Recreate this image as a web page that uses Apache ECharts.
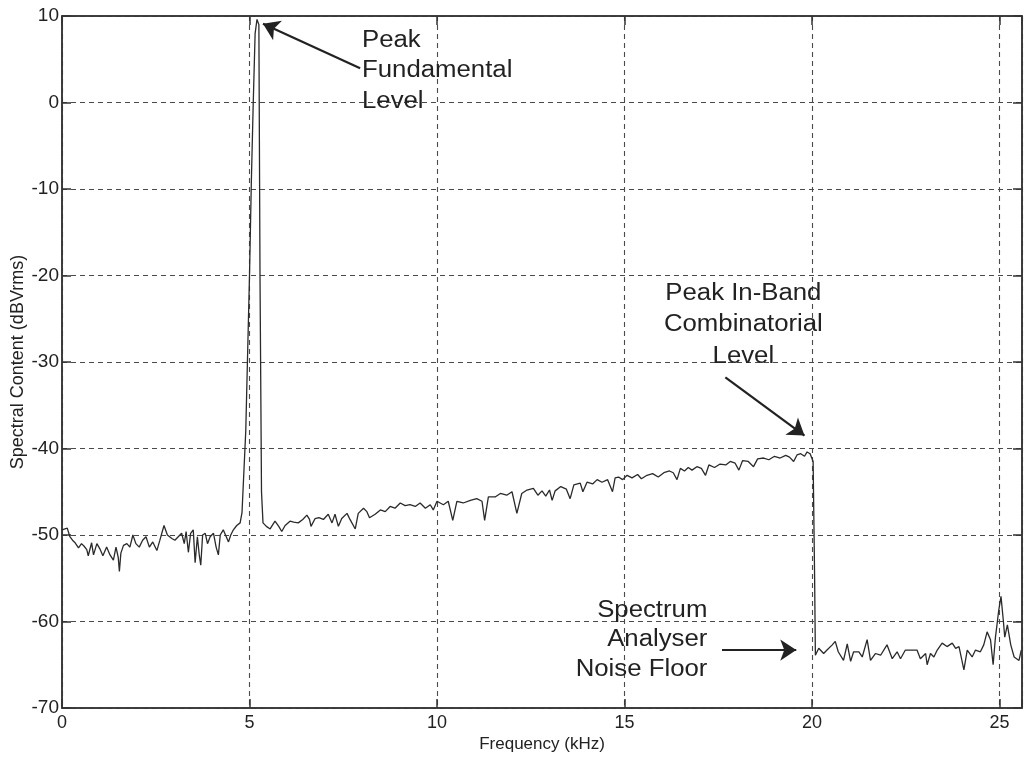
<!DOCTYPE html>
<html>
<head>
<meta charset="utf-8">
<script src="https://cdn.jsdelivr.net/npm/echarts@6/dist/echarts.min.js"></script>
<style>
  html, body { margin: 0; padding: 0; background: #ffffff; }
  #chart { width: 1027px; height: 760px; }
</style>
</head>
<body>
<div id="chart"></div>
<script>
// Spectrum analyser trace: frequency (kHz) and level (dBVrms)
const freqKHz = [
  0.00, 0.05, 0.14, 0.21, 0.28, 0.35, 0.44, 0.52, 0.59, 0.66, 0.70, 0.79, 0.84, 0.93, 1.01, 1.09,
  1.19, 1.28, 1.37, 1.44, 1.50, 1.53, 1.57, 1.64, 1.73, 1.81, 1.89, 1.97, 2.06, 2.15, 2.24, 2.33,
  2.42, 2.53, 2.61, 2.72, 2.81, 2.93, 3.01, 3.10, 3.19, 3.26, 3.31, 3.37, 3.43, 3.50, 3.55, 3.61,
  3.66, 3.70, 3.75, 3.82, 3.88, 3.95, 4.04, 4.11, 4.17, 4.22, 4.30, 4.38, 4.44, 4.50, 4.57, 4.66,
  4.75, 4.80, 4.90, 5.00, 5.05, 5.10, 5.15, 5.20, 5.25, 5.28, 5.32, 5.36,
  5.45, 5.55, 5.62, 5.68, 5.78, 5.86, 5.95, 6.08, 6.18, 6.30, 6.42, 6.53, 6.60, 6.64, 6.75, 6.85,
  6.97, 7.10, 7.20, 7.28, 7.37, 7.46, 7.60, 7.68, 7.82, 7.90, 8.04, 8.13, 8.20, 8.35, 8.49, 8.62,
  8.75, 8.88, 9.02, 9.15, 9.28, 9.42, 9.55, 9.69, 9.82, 9.90, 10.00, 10.17, 10.30, 10.42, 10.53, 10.70,
  10.89, 11.06, 11.20, 11.27, 11.37, 11.55, 11.69, 11.86, 12.00, 12.13, 12.26, 12.40, 12.57, 12.69, 12.80, 12.90,
  13.00, 13.07, 13.15, 13.30, 13.45, 13.55, 13.65, 13.82, 13.89, 14.00, 14.15, 14.27, 14.40, 14.55, 14.68, 14.75,
  14.84, 14.95, 15.07, 15.20, 15.35, 15.45, 15.60, 15.75, 15.90, 16.05, 16.20, 16.30, 16.40, 16.49, 16.60, 16.70,
  16.80, 16.93, 17.05, 17.16, 17.25, 17.40, 17.55, 17.70, 17.82, 17.95, 18.05, 18.15, 18.30, 18.44, 18.55, 18.71,
  18.85, 19.00, 19.15, 19.30, 19.40, 19.51, 19.60, 19.70, 19.80, 19.87, 19.95, 20.00, 20.03, 20.07, 20.09,
  20.18, 20.31, 20.40, 20.54, 20.62, 20.70, 20.84, 20.94, 21.03, 21.11, 21.25, 21.34, 21.47, 21.56, 21.69, 21.83,
  22.00, 22.14, 22.27, 22.36, 22.49, 22.63, 22.80, 22.89, 23.03, 23.07, 23.16, 23.25, 23.34, 23.47, 23.60, 23.74,
  23.83, 23.92, 24.05, 24.14, 24.27, 24.36, 24.49, 24.58, 24.67, 24.76, 24.83, 24.89, 24.98, 25.04, 25.10, 25.14,
  25.21, 25.30, 25.39, 25.52, 25.58
];
const levelDbVrms = [
  -49.4, -49.6, -49.2, -50.2, -50.6, -50.9, -51.5, -51.0, -51.3, -51.7, -52.4, -50.9, -52.3, -51.0, -51.6, -52.4,
  -51.4, -52.3, -52.9, -51.4, -52.6, -54.2, -52.1, -51.2, -51.0, -51.4, -50.0, -51.0, -51.4, -50.6, -50.2, -51.4,
  -50.8, -51.8, -50.6, -48.9, -50.0, -50.4, -50.6, -50.2, -49.8, -51.0, -49.6, -52.0, -49.8, -49.4, -53.2, -50.2,
  -52.3, -53.5, -50.0, -49.8, -51.0, -50.2, -49.8, -51.4, -52.3, -50.0, -49.4, -50.2, -50.8, -50.0, -49.4, -48.9,
  -48.6, -47.4, -38.0, -20.0, -9.0, 0.0, 8.0, 9.6, 9.0, -20.0, -45.0, -48.6,
  -49.0, -49.3, -48.8, -48.4, -49.0, -49.6, -48.9, -48.4, -48.5, -48.6, -48.2, -47.7, -48.2, -49.0, -48.1, -48.0,
  -48.2, -47.6, -48.6, -47.6, -49.0, -48.1, -47.5, -48.2, -49.3, -47.5, -46.9, -47.3, -48.0, -47.6, -47.1, -47.3,
  -46.7, -46.9, -46.3, -46.6, -46.5, -46.7, -46.3, -46.9, -46.5, -47.1, -46.1, -46.5, -46.1, -48.3, -46.1, -46.3,
  -46.0, -45.8, -46.1, -48.3, -45.6, -45.6, -45.2, -45.4, -45.0, -47.5, -45.2, -44.8, -44.6, -45.4, -44.9, -45.5,
  -44.8, -46.0, -44.9, -44.4, -44.7, -45.8, -44.2, -44.0, -45.0, -43.9, -44.1, -43.6, -43.9, -43.6, -45.0, -43.4,
  -43.3, -43.6, -43.1, -43.4, -43.0, -43.5, -43.1, -42.9, -43.3, -42.8, -42.6, -42.8, -43.6, -42.3, -42.6, -42.2,
  -42.5, -42.1, -42.3, -43.1, -41.9, -42.2, -41.8, -41.9, -41.5, -41.7, -42.5, -41.4, -41.5, -42.1, -41.2, -41.1,
  -41.3, -40.9, -41.1, -40.8, -41.0, -41.5, -40.75, -40.6, -40.9, -40.4, -40.6, -40.4, -41.5, -55.0, -63.9,
  -63.1, -63.7, -63.3, -62.7, -62.3, -63.5, -64.5, -62.6, -64.6, -63.5, -63.5, -64.1, -62.1, -64.5, -63.7, -63.9,
  -62.7, -64.3, -63.5, -64.3, -63.3, -63.3, -63.3, -64.3, -63.7, -65.0, -63.7, -64.1, -63.3, -62.5, -62.9, -62.5,
  -63.1, -62.9, -65.6, -63.3, -64.1, -63.3, -63.5, -62.7, -61.2, -62.1, -65.0, -61.9, -58.7, -57.1, -59.8, -61.8,
  -60.4, -62.7, -64.1, -64.5, -63.3
];

const xTickValues = [0, 5, 10, 15, 20, 25];
const yTickValues = [-70, -60, -50, -40, -30, -20, -10, 0, 10];

// Callout texts and their arrows, placed in data coordinates (kHz, dBVrms)
const callouts = [
  { text: ['Peak', 'Fundamental', 'Level'], at: [8.0, 3.64], align: 'left', lineHeight: 30.5,
    from: [7.95, 3.95], to: [5.36, 9.1] },
  { text: ['Peak In-Band', 'Combinatorial', 'Level'], at: [18.17, -25.72], align: 'center', lineHeight: 31.5,
    from: [17.69, -31.77], to: [19.8, -38.5] },
  { text: ['Spectrum', 'Analyser', 'Noise Floor'], at: [17.21, -62.14], align: 'right', lineHeight: 29.5,
    from: [17.6, -63.3], to: [19.58, -63.3] }
];

const INK = '#222222';
const FONT = '"Liberation Sans", Arial, Helvetica, sans-serif';

const chart = echarts.init(document.getElementById('chart'), null, { renderer: 'canvas' });

const xMin = xTickValues[0];
const xMax = 25.6;
const yMin = yTickValues[0];
const yMax = yTickValues[yTickValues.length - 1];

const gridDash = { color: '#4a4a4a', width: 1.1, type: [5, 4] };
const frameLine = { show: true, onZero: false, lineStyle: { color: '#333333', width: 1.5 } };
const innerTick = { show: true, inside: true, length: 9, lineStyle: { color: '#333333', width: 1.5 } };

chart.setOption({
  animation: false,
  backgroundColor: '#ffffff',
  grid: {
    left: 62, right: 5, top: 16, bottom: 52,
    outerBoundsMode: 'none',
    containLabel: false,
    show: true, borderColor: '#333333', borderWidth: 1.5, backgroundColor: 'transparent'
  },
  xAxis: [
    {
      type: 'value', min: xMin, max: xMax, interval: 5, position: 'bottom',
      name: 'Frequency (kHz)', nameLocation: 'middle', nameGap: 28, nameMoveOverlap: false,
      nameTextStyle: { color: INK, fontFamily: FONT, fontSize: 17 },
      axisLine: frameLine,
      axisTick: innerTick,
      axisLabel: {
        color: INK, fontFamily: FONT, fontSize: 18, margin: 6,
        formatter: v => (xTickValues.indexOf(v) >= 0 ? String(v) : '')
      },
      splitLine: { show: true, lineStyle: gridDash }
    },
    {
      type: 'value', min: xMin, max: xMax, interval: 5, position: 'top',
      axisLine: frameLine,
      axisTick: innerTick,
      axisLabel: { show: false },
      splitLine: { show: false }
    }
  ],
  yAxis: [
    {
      type: 'value', min: yMin, max: yMax, interval: 10, position: 'left',
      name: 'Spectral Content (dBVrms)', nameLocation: 'middle', nameGap: 35, nameMoveOverlap: false,
      nameTextStyle: { color: INK, fontFamily: FONT, fontSize: 18 },
      axisLine: frameLine,
      axisTick: innerTick,
      axisLabel: { color: INK, fontFamily: FONT, fontSize: 19, margin: 3 },
      splitLine: { show: true, lineStyle: gridDash }
    },
    {
      type: 'value', min: yMin, max: yMax, interval: 10, position: 'right',
      axisLine: frameLine,
      axisTick: innerTick,
      axisLabel: { show: false },
      splitLine: { show: false }
    }
  ],
  series: [
    {
      name: 'Spectrum',
      type: 'line',
      xAxisIndex: 0, yAxisIndex: 0,
      data: freqKHz.map((f, i) => [f, levelDbVrms[i]]),
      showSymbol: false,
      symbol: 'none',
      lineStyle: { color: '#2a2a2a', width: 1.3 },
      silent: true,
      markLine: {
        silent: true,
        symbol: ['none', 'arrow'],
        symbolSize: 16,
        label: { show: false },
        lineStyle: { color: INK, width: 2.2, type: 'solid' },
        itemStyle: { color: INK },
        emphasis: { disabled: true },
        data: callouts.map(c => [
          { coord: c.from, symbol: 'none' },
          { coord: c.to, symbol: 'arrow', symbolSize: 16 }
        ])
      }
    }
  ]
});

// Callout text blocks, anchored through the axes' own scales
chart.setOption({
  graphic: callouts.map(c => {
    const p = chart.convertToPixel({ gridIndex: 0 }, c.at);
    return {
      type: 'text',
      x: p[0], y: p[1],
      scaleX: 1.12,
      silent: true,
      style: {
        text: c.text.join('\n'),
        fontFamily: FONT,
        fontSize: 23,
        lineHeight: c.lineHeight,
        fill: INK,
        align: c.align,
        verticalAlign: 'middle'
      }
    };
  })
});
</script>
</body>
</html>
